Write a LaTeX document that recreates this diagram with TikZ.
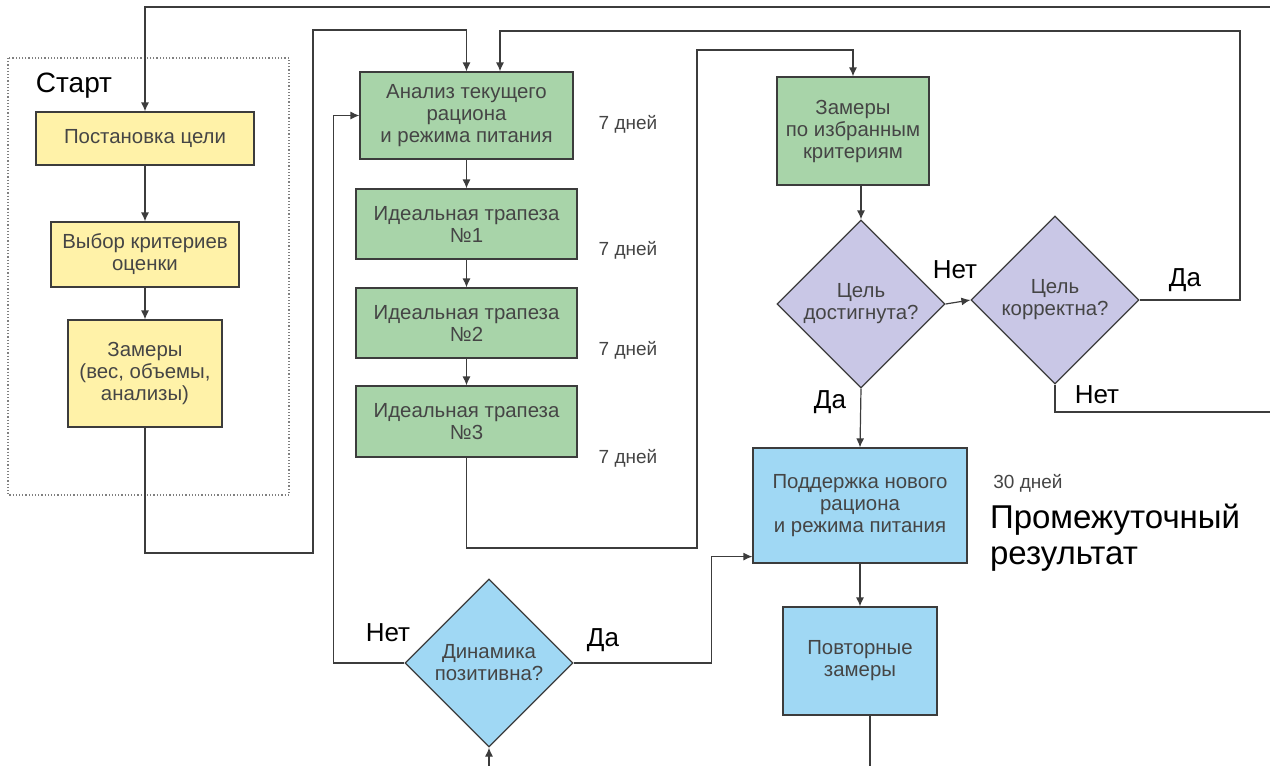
\documentclass[tikz,border=0pt]{standalone}
\usepackage{fontspec}
\setmainfont{Liberation Sans}
\definecolor{boxyellow}{HTML}{FFF2A8}
\definecolor{boxgreen}{HTML}{A8D4A9}
\definecolor{boxlilac}{HTML}{C9C7E6}
\definecolor{boxblue}{HTML}{A0D8F4}
\definecolor{inktext}{HTML}{454545}
\definecolor{inkline}{HTML}{3C3C3C}
\usetikzlibrary{arrows.meta,positioning,shapes.geometric}

\tikzset{
  stepbox/.style={draw=inkline, line width=0.6pt, text=inktext, align=center,
    font=\fontsize{10.2}{11}\selectfont, inner sep=2pt},
  yellowbox/.style={stepbox, fill=boxyellow},
  greenbox/.style={stepbox, fill=boxgreen},
  bluebox/.style={stepbox, fill=boxblue},
  decision/.style={diamond, aspect=1, draw=inkline, line width=0.6pt,
    text=inktext, align=center, font=\fontsize{10.2}{11}\selectfont,
    inner sep=0pt, minimum width=84pt, minimum height=84pt},
  link/.style={draw=inkline, line width=0.6pt},
  arr/.style={link, -{Latex[length=4.5pt,width=4pt]}},
  answer/.style={font=\fontsize{13}{15}\selectfont},
  days/.style={font=\fontsize{9.5}{11}\selectfont, text=inktext},
}

\begin{document}
\begin{tikzpicture}[x=0.5pt,y=-0.5pt]
    \useasboundingbox (0,0) rectangle (1270,766);

    % Start frame
    \draw[gray, densely dotted, line width=0.6pt] (8,58) rectangle (289,495);
    \node[font=\fontsize{14}{16}\selectfont] (start) at (74,86) {Старт};

    % Yellow column
    \node[yellowbox, minimum width=109pt, minimum height=26.5pt] (goal) at (145,138.5)
      {Постановка цели};
    \node[yellowbox, minimum width=94pt, minimum height=32.5pt] (crit) at (145,254.5)
      {Выбор критериев\\оценки};
    \node[yellowbox, minimum width=77pt, minimum height=53.5pt] (meas) at (145,373.5)
      {Замеры\\(вес, объемы,\\анализы)};

    % Green column
    \node[greenbox, minimum width=106.5pt, minimum height=43.5pt] (anal) at (466.5,115.5)
      {Анализ текущего\\рациона\\и режима питания};
    \node[greenbox, minimum width=110.5pt, minimum height=35pt] (meal1) at (466.5,224)
      {Идеальная трапеза\\№1};
    \node[greenbox, minimum width=110.5pt, minimum height=35pt] (meal2) at (466.5,323)
      {Идеальная трапеза\\№2};
    \node[greenbox, minimum width=110.5pt, minimum height=35.5pt] (meal3) at (466.5,421.5)
      {Идеальная трапеза\\№3};

    \node[days] (d0) at (628,124) {7 дней};
    \node[days] (d1) at (628,250) {7 дней};
    \node[days] (d2) at (628,350) {7 дней};
    \node[days] (d3) at (628,458) {7 дней};

    % Check and decisions
    \node[greenbox, minimum width=76pt, minimum height=54pt] (check) at (853,131)
      {Замеры\\по избранным\\критериям};
    \node[decision, fill=boxlilac] (reached) at (861,304) {Цель\\достигнута?};
    \node[decision, fill=boxlilac] (correct) at (1055,300) {Цель\\корректна?};

    % Blue part
    \node[bluebox, minimum width=107pt, minimum height=57.5pt] (keep) at (860,505.5)
      {Поддержка нового\\рациона\\и режима питания};
    \node[bluebox, minimum width=77pt, minimum height=54pt] (remeas) at (860,661)
      {Повторные\\замеры};
    \node[decision, fill=boxblue] (dyn) at (489,663) {Динамика\\позитивна?};

    \node[days] (d30) at (1028,483) {30 дней};
    \node[anchor=north west, align=left, font=\fontsize{16.5}{18}\selectfont]
      (inter) at (983,497) {Промежуточный\\результат};

    % Free ends at the edges
    \coordinate (topR) at (1270,7);
    \coordinate (rightN) at (1270,412);
    \coordinate (botR) at (870,766);
    \coordinate (botL) at (489,766);

    % Connectors
    \draw[arr] (topR) -| (goal.north);
    \draw[arr] (goal) -- (crit);
    \draw[arr] (crit) -- (meas);
    \draw[arr] (meas.south) |- (313,553) -- (313,30) -| (anal.north);

    \draw[arr] (anal) -- (meal1);
    \draw[arr] (meal1) -- (meal2);
    \draw[arr] (meal2) -- (meal3);
    \draw[arr] (meal3.south) |- (697,548) -- (697,50) -| (check.north);

    \draw[arr] (check.south -| reached.north) -- (reached.north);
    \draw[arr] (reached.east) -- (correct.west);
    \draw[arr] (correct.east) -- (1240,300) -- (1240,31) -| ([xshift=16.75pt]anal.north);
    \draw[link] (correct.south) |- (rightN);
    \draw[arr] (reached.south) -- (keep.north);
    \draw[arr] (keep) -- (remeas);
    \draw[link] (remeas.south -| botR) -- (botR);

    \draw[arr] (botL) -- (dyn.south);
    \draw[arr] (dyn.west) -- ++(-71,0) |- (anal.west);
    \draw[arr] (dyn.east) -- ++(138,0) |- ([yshift=3.5pt]keep.south west);

    % Answers
    \node[answer] (noA) at (955,270) {Нет};
    \node[answer] (yesA) at (830,402) {Да};
    \node[answer] (yesB) at (1185,280) {Да};
    \node[answer] (noB) at (1097,395) {Нет};
    \node[answer] (noC) at (388,633) {Нет};
    \node[answer] (yesC) at (603,640) {Да};
  \end{tikzpicture}
\end{document}
